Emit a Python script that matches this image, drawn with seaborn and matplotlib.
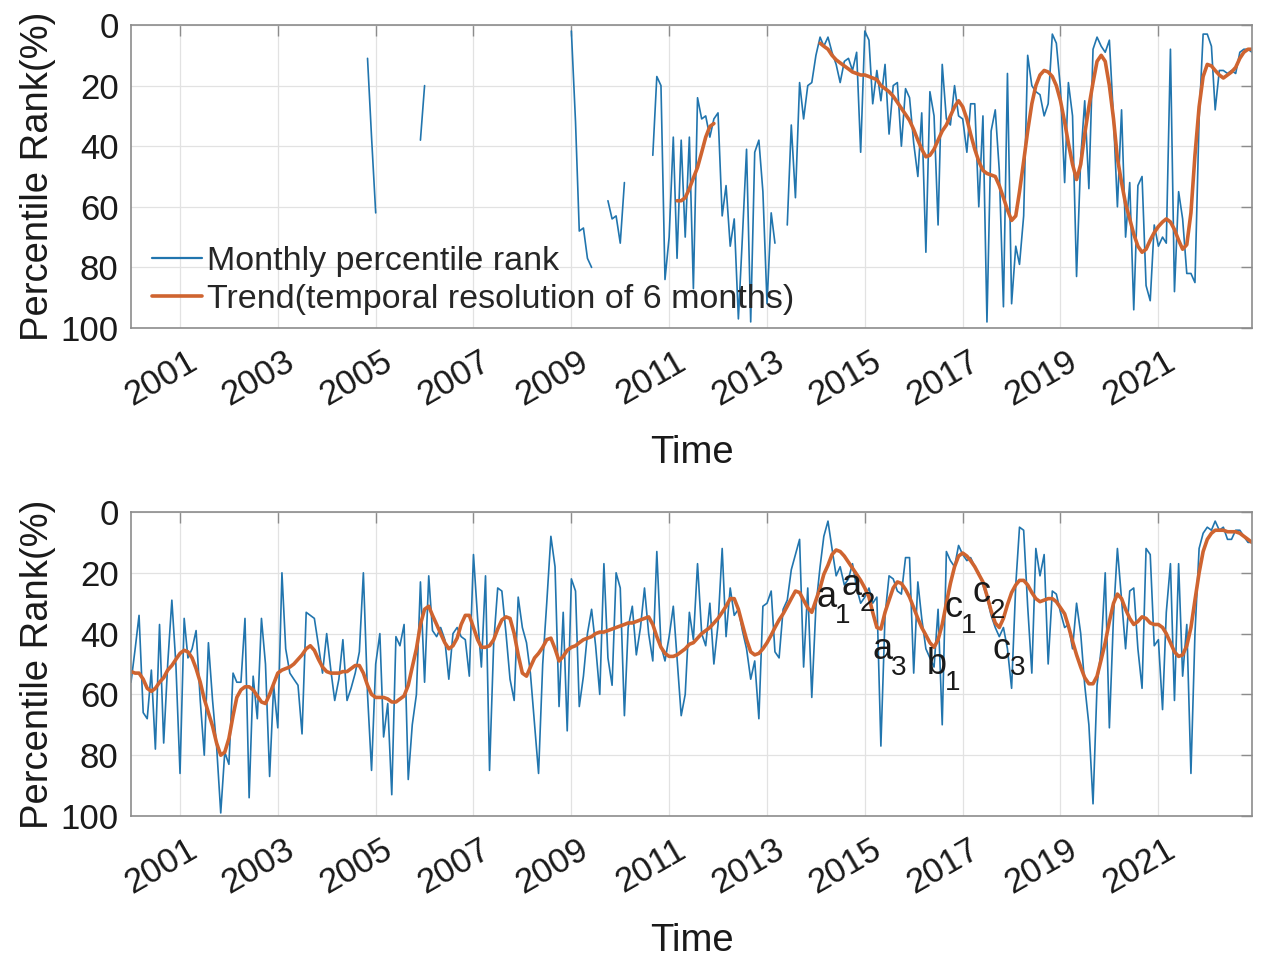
import numpy as np
import pandas as pd
import matplotlib
matplotlib.use("Agg")
import matplotlib.pyplot as plt
import seaborn as sns
from matplotlib.lines import Line2D
from matplotlib.transforms import ScaledTranslation

nan = np.nan

# ---------------- data (monthly, Jan 2000 .. Dec 2022) ----------------
start_month = "2000-01-01"
n_months = 276

top_monthly = [
    # 2000
    nan, nan, nan, nan, nan, nan, nan, nan, nan, nan, nan, nan,
    # 2001
    nan, nan, nan, nan, nan, nan, nan, nan, nan, nan, nan, nan,
    # 2002
    nan, nan, nan, nan, nan, nan, nan, nan, nan, nan, nan, nan,
    # 2003
    nan, nan, nan, nan, nan, nan, nan, nan, nan, nan, nan, nan,
    # 2004
    nan, nan, nan, nan, nan, nan, nan, nan, nan, nan, 11, 37,
    # 2005
    62, nan, nan, nan, nan, nan, nan, nan, nan, nan, nan, 38,
    # 2006
    20, nan, nan, nan, nan, nan, nan, nan, nan, nan, nan, nan,
    # 2007
    nan, nan, nan, nan, nan, nan, nan, nan, nan, nan, nan, nan,
    # 2008
    nan, nan, nan, nan, nan, nan, nan, nan, nan, nan, nan, nan,
    # 2009
    2, 32, 68, 67, 77, 80, nan, nan, nan, 58, 64, 63,
    # 2010
    72, 52, nan, nan, nan, nan, nan, nan, 43, 17, 20, 84,
    # 2011
    70, 37, 77, 38, 70, 37, 87, 24, 31, 30, 37, 31,
    # 2012
    29, 63, 53, 73, 64, 97, 70, 41, 98, 42, 38, 55,
    # 2013
    92, 62, 72, nan, nan, 66, 33, 57, 19, 31, 20, 19,
    # 2014
    10, 4, 7, 4, 9, 13, 19, 12, 11, 15, 9, 42,
    # 2015
    2, 5, 26, 15, 25, 13, 36, 20, 19, 40, 21, 24,
    # 2016
    39, 50, 29, 75, 22, 30, 66, 13, 31, 33, 20, 30,
    # 2017
    31, 42, 26, 26, 60, 30, 98, 35, 28, 48, 93, 16,
    # 2018
    92, 73, 79, 63, 10, 20, 22, 23, 30, 26, 3, 6,
    # 2019
    21, 52, 19, 30, 83, 44, 25, 54, 8, 4, 7, 9,
    # 2020
    5, 31, 60, 28, 70, 52, 94, 53, 50, 86, 91, 66,
    # 2021
    73, 70, 72, 8, 88, 55, 64, 82, 82, 85, 31, 3,
    # 2022
    3, 7, 28, 15, 15, 16, 15, 16, 9, 8, 8, 9,
]

top_trend = [
    # 2000-2010
    *([nan] * 132),
    # 2011
    nan, nan, 58, 58, 57, 54, 50.5, 47, 42, 37, 33.5, 32.5,
    # 2012
    nan, nan, nan, nan, nan, nan, nan, nan, nan, nan, nan, nan,
    # 2013
    nan, nan, nan, nan, nan, nan, nan, nan, nan, nan, nan, nan,
    # 2014
    nan, 6, 7, 8, 10, 11.5, 12.5, 13.5, 14.5, 15.5, 16, 16.5,
    # 2015
    16.5, 17, 17.5, 18, 20, 21, 22, 23.5, 25.5, 27.5, 29.5, 31.5,
    # 2016
    34.5, 38, 41, 43.5, 43, 41, 38, 35, 33, 30, 27, 25,
    # 2017
    27, 31, 36, 41, 45, 48, 49, 49.5, 50, 53, 57, 61,
    # 2018
    64.5, 63, 55, 45, 35, 26, 20, 16.5, 15, 15.5, 17, 20,
    # 2019
    25, 32, 39, 46, 51, 46, 36, 27, 19, 12, 10, 12,
    # 2020
    20, 31, 44, 52, 59, 64, 69, 73, 75, 74, 71, 68.5,
    # 2021
    66.5, 65, 64, 65, 67.5, 71, 74, 72.5, 62, 43, 27, 17,
    # 2022
    13, 13.5, 15, 16.5, 17.5, 16.5, 15.5, 14, 11, 9, 8, 8,
]

bottom_monthly = [
    56, 45, 34, 66, 68, 52, 78, 37, 76, 50, 29, 50,    # 2000
    86, 35, 48, 45, 39, 62, 80, 43, 62, 77, 99, 79,    # 2001
    83, 53, 56, 56, 35, 94, 54, 68, 35, 50, 87, 57,    # 2002
    71, 20, 45, 53, 55, 57, 73, 33, 34, 35, 44, 53,    # 2003
    40, 52, 62, 55, 42, 62, 58, 53, 46, 20, 60, 85,    # 2004
    50, 40, 74, 63, 93, 41, 44, 37, 88, 70, 60, 23,    # 2005
    56, 21, 39, 41, 38, 42, 55, 40, 38, 41, 42, 54,    # 2006
    14, 35, 51, 21, 85, 43, 25, 26, 40, 55, 62, 28,    # 2007
    38, 43, 53, 70, 86, 50, 30, 8, 18, 64, 33, 72,     # 2008
    22, 26, 64, 54, 40, 32, 44, 60, 17, 48, 57, 20,    # 2009
    25, 67, 38, 31, 47, 38, 25, 40, 49, 13, 44, 49,    # 2010
    41, 31, 48, 67, 60, 33, 42, 17, 40, 44, 30, 50,    # 2011
    37, 12, 41, 25, 34, 32, 39, 45, 55, 49, 68, 31,    # 2012
    30, 26, 46, 48, 32, 29, 19, 14, 9, 51, 25, 61,     # 2013
    31, 18, 8, 3, 12, 21, 18, 24, 22, 17, 25, 30,      # 2014
    28, 25, 30, 28, 77, 34, 21, 22, 26, 27, 15, 15,    # 2015
    53, 23, 35, 45, 48, 51, 32, 70, 13, 16, 18, 11,    # 2016
    14, 16, 15, 18, 20, 24, 28, 34, 38, 41, 38, 45,    # 2017
    58, 24, 5, 6, 31, 53, 12, 21, 14, 50, 26, 27,      # 2018
    33, 38, 37, 45, 30, 40, 57, 70, 96, 57, 45, 20,    # 2019
    71, 34, 12, 29, 45, 26, 25, 45, 58, 12, 14, 44,    # 2020
    42, 65, 33, 17, 62, 17, 54, 37, 86, 40, 12, 7,     # 2021
    5, 6, 3, 6, 5, 9, 9, 6, 6, 8, 10, 10,              # 2022
]

bottom_trend = [
    52.5, 53, 53, 55, 58, 59, 58, 56, 54.5, 52, 50.5, 48.5,          # 2000
    46.5, 45.5, 46, 48, 51.5, 56, 61.5, 66, 70.5, 76, 80, 79,        # 2001
    74.5, 67, 61, 58.5, 57.5, 57.5, 58.5, 60.5, 62.5, 63, 60, 56.5,  # 2002
    53, 52, 51.5, 51, 50, 48.5, 47, 45, 44, 45.5, 48.5, 51,          # 2003
    52.5, 53, 53, 53, 52.5, 52.5, 51.5, 50.5, 50.5, 53, 57, 60,      # 2004
    61, 61, 61, 61.5, 62.5, 62.5, 61.5, 60.5, 57, 51, 45, 37,        # 2005
    32, 31, 34, 37, 40, 43, 45, 44, 41.5, 37, 34, 34,                # 2006
    38, 42, 44.5, 44.5, 44, 42, 38.5, 35.5, 34.5, 35, 40, 47,        # 2007
    53, 54, 51, 48, 46.5, 44.5, 42, 41.5, 45, 49, 47.5, 45.5,        # 2008
    44.5, 44, 43, 42, 41.5, 41, 40, 39.5, 39.5, 39, 38.5, 38,        # 2009
    37.5, 37, 36.5, 36.5, 36, 35.5, 35, 34.5, 37, 41, 44.5, 46.5,    # 2010
    47.5, 47.5, 47, 46, 45, 43.5, 43, 41.5, 40, 39, 38, 36.5,        # 2011
    35, 33, 31, 28.5, 28.5, 32, 37, 42, 46, 47, 46.5, 45,            # 2012
    43, 40.5, 38, 35.5, 33.5, 31, 28.5, 26, 26.5, 29, 31.5, 33,      # 2013
    29, 25, 20.5, 17.5, 14, 12.5, 13, 14.5, 16.5, 18.5, 20.5, 22.5,  # 2014
    25, 28, 33, 38, 38.5, 33, 29, 25, 23, 23.5, 25.5, 28,            # 2015
    31.5, 35, 38, 40.5, 43, 44.5, 42, 37, 30, 23.5, 18, 14.5,        # 2016
    13.5, 14.5, 16, 18, 20.5, 23, 27.5, 32.5, 36.5, 38, 35, 30.5,    # 2017
    26.5, 24, 22.5, 22.5, 24, 26.5, 28.5, 29.5, 29, 28.5, 28.5, 29.5,  # 2018
    31.5, 33.5, 37.5, 42.5, 47, 51, 54.5, 56.5, 56.5, 54, 48.5, 43,  # 2019
    36, 30, 27, 28.5, 32, 35, 37, 36, 34.5, 35, 36.5, 37,            # 2020
    37, 38, 40, 43, 46, 47.5, 47, 44, 38, 29, 20, 13,                # 2021
    9, 7, 6, 6, 6, 6.5, 6.5, 6.5, 7, 8, 9, 10,                       # 2022
]

tick_years = list(range(2001, 2022, 2))
y_ticks = [0, 20, 40, 60, 80, 100]
legend_labels = ["Monthly percentile rank",
                 "Trend(temporal resolution of 6 months)"]
annotation_letters = [("a", "1"), ("a", "2"), ("a", "3"), ("b", "1"),
                      ("c", "1"), ("c", "2"), ("c", "3")]

# ---------------- styling ----------------
BLUE = "#2175AE"
ORANGE = "#CF6430"
TEXT = "#1A1A1A"
FRAME = "#8C8C8C"

sns.set_style("white")
plt.rcParams["font.family"] = ["Liberation Sans", "DejaVu Sans"]

dates = pd.date_range(start_month, periods=n_months, freq="MS")


def to_frame(values):
    s = pd.Series(np.asarray(values, dtype=float))
    isn = s.isna()
    seg = isn.ne(isn.shift()).cumsum()
    df = pd.DataFrame({"date": dates, "value": s, "seg": seg})
    return df.dropna()


fig = plt.figure(figsize=(12.61, 9.57), dpi=100)
fig.patch.set_facecolor("white")
ax_top = fig.add_axes([0.10389, 0.65726, 0.88898, 0.31661])
ax_bot = fig.add_axes([0.10389, 0.14734, 0.88898, 0.31766])

for ax, monthly, trend in [(ax_top, top_monthly, top_trend),
                           (ax_bot, bottom_monthly, bottom_trend)]:
    sns.lineplot(data=to_frame(monthly), x="date", y="value", units="seg",
                 estimator=None, color=BLUE, lw=1.2, ax=ax, legend=False)
    sns.lineplot(data=to_frame(trend), x="date", y="value", units="seg",
                 estimator=None, color=ORANGE, lw=2.6, ax=ax, legend=False)

    ax.set_xlim(dates[0], dates[-1])
    ax.set_ylim(100, 0)
    ax.set_yticks(y_ticks)
    ax.set_yticklabels([str(v) for v in y_ticks])
    ax.set_xticks([pd.Timestamp(f"{y}-01-01") for y in tick_years])
    ax.set_xticklabels([str(y) for y in tick_years])
    ax.grid(True, color="#E2E2E2", lw=0.9)
    ax.set_axisbelow(True)
    ax.tick_params(direction="in", length=8, width=1.0, color=FRAME,
                   top=True, right=True, labelsize=25, labelcolor=TEXT)
    ax.tick_params(axis="y", pad=9)
    ax.tick_params(axis="x", pad=12)
    for sp in ax.spines.values():
        sp.set_color(FRAME)
        sp.set_linewidth(1.2)
    for lab in ax.get_xticklabels():
        lab.set_rotation(30)
        lab.set_rotation_mode("anchor")
        lab.set_ha("right")
        lab.set_va("top")
        lab.set_transform(lab.get_transform()
                          + ScaledTranslation(0.06, 0, fig.dpi_scale_trans))
    ax.set_xlabel("Time", fontsize=27.5, color=TEXT, labelpad=16.5)
    ax.set_ylabel("Percentile Rank(%)", fontsize=27.5, color=TEXT,
                  labelpad=3)

handles = [Line2D([], [], color=BLUE, lw=1.6),
           Line2D([], [], color=ORANGE, lw=2.6)]
ax_top.legend(handles, legend_labels, loc="lower left",
              bbox_to_anchor=(0.019, 0.043), frameon=False, fontsize=24.5,
              borderpad=0, borderaxespad=0, handlelength=1.45,
              handletextpad=0.15, labelspacing=0.2)

# annotations (letter + subscript) in the lower panel, axes-fraction coords
ann_pos = [(0.6206, 0.7171), (0.6429, 0.7566), (0.6708, 0.5493),
           (0.7187, 0.4967), (0.7333, 0.6842), (0.7589, 0.7336),
           (0.7767, 0.5493)]
sub_off = ScaledTranslation(0.155, -0.185, fig.dpi_scale_trans)
for (letter, sub), (fx, fy) in zip(annotation_letters, ann_pos):
    ax_bot.text(fx, fy, letter, transform=ax_bot.transAxes, fontsize=26,
                color=TEXT, ha="center", va="center")
    ax_bot.text(fx, fy, sub, transform=ax_bot.transAxes + sub_off,
                fontsize=20, color=TEXT, ha="center", va="center")

fig.savefig("out.png", dpi=100, facecolor="white")
